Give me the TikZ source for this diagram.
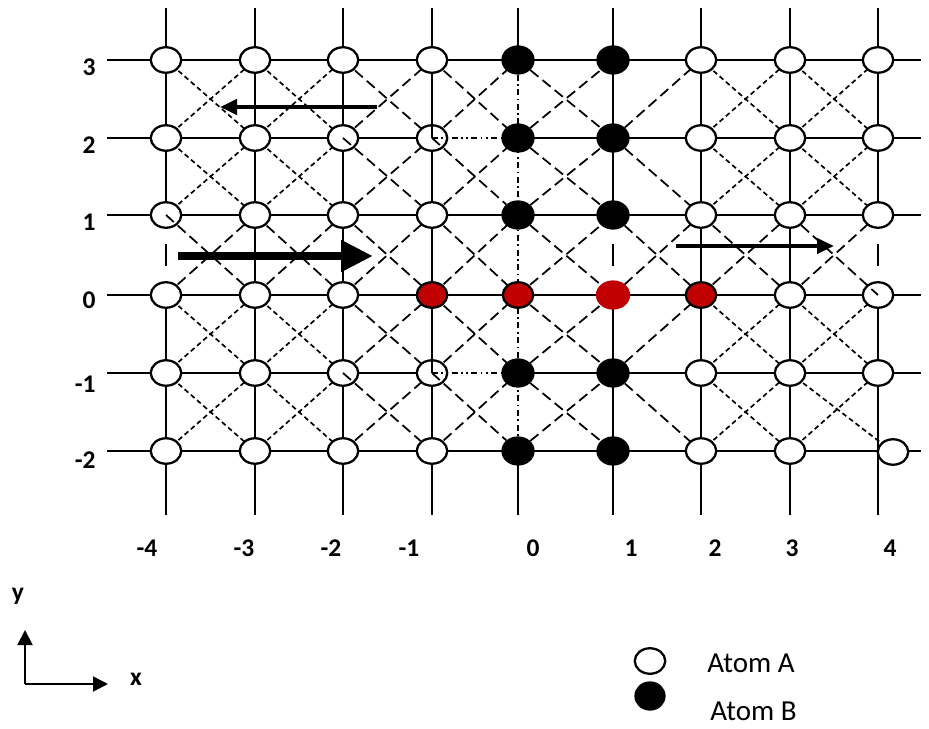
\documentclass[tikz,border=0pt]{standalone}
\usepackage{fontspec}
\setmainfont{Carlito}
\usetikzlibrary{shapes.geometric,arrows.meta}
\definecolor{AtomRed}{HTML}{C00000}

\begin{document}
\begin{tikzpicture}[x=0.02cm,y=-0.02cm,
  lattice/.style={line width=1.2pt},
  shortdash/.style={line width=0.95pt,dash pattern=on 2.8pt off 1.9pt},
  longdash/.style={line width=1pt,dash pattern=on 6pt off 3pt},
  chain/.style={line width=1pt,dash pattern=on 3.4pt off 2pt on 0.9pt off 2pt},
  chaindots/.style={line width=1pt,dash pattern=on 3.4pt off 2pt on 0.9pt off 2pt on 0.9pt off 2pt},
  atomA/.style={ellipse,draw,line width=1.3pt,fill=white,minimum width=0.61cm,minimum height=0.51cm,inner sep=0pt},
  atomB/.style={atomA,fill=black,minimum width=0.62cm,minimum height=0.54cm},
  atomR/.style={atomA,fill=AtomRed},
  atomRn/.style={atomA,draw=AtomRed,fill=AtomRed,minimum width=0.64cm,minimum height=0.54cm},
  push/.style={line width=#1,-{Triangle[length=0.34cm,width=0.3cm]}},
  lbl/.style={font=\fontsize{14.5}{17}\selectfont\bfseries,inner sep=0pt},
  key/.style={font=\fontsize{16.5}{19}\selectfont,inner sep=0pt}]
\path[use as bounding box] (0,0) rectangle (929,729);

% lattice sites
\foreach \i/\x in {-4/166,-3/255,-2/343,-1/432,0/518,1/613,2/701,3/790,4/878}
  \foreach \j/\y in {3/60,2/138,1/215,0/295,-1/373,-2/451}
    \coordinate (c\i_\j) at (\x,\y);
\coordinate (c4_-2) at (893,452);

% diagonals
\foreach \i in {-4,-3,2,3}
  \foreach \j in {-2,-1,1,2}{
    \pgfmathtruncatemacro\k{\i+1}
    \pgfmathtruncatemacro\m{\j+1}
    \draw[shortdash] (c\i_\j) -- (c\k_\m);
    \draw[shortdash] (c\i_\m) -- (c\k_\j);
  }
\foreach \i/\j in {-4/0,-3/0,-2/0,-1/0,0/0,1/0,2/0,3/0,-2/2,-2/1,-2/-1,-2/-2,-1/2,-1/1,-1/-1,-1/-2,0/2,0/1,0/-1,0/-2,1/2,1/-1}{
    \pgfmathtruncatemacro\k{\i+1}
    \pgfmathtruncatemacro\m{\j+1}
    \draw[longdash] (c\i_\j) -- (c\k_\m);
  }
\foreach \i/\j in {-3/0,-2/0,-1/0,0/0,1/0,2/0,-2/2,-2/-1,-1/2,-1/-1,0/2,0/1,0/-1,0/-2,1/1,1/-2}{
    \pgfmathtruncatemacro\k{\i+1}
    \pgfmathtruncatemacro\m{\j+1}
    \draw[longdash] (c\i_\m) -- (c\k_\j);
  }

% horizontal lines
\foreach \j/\y in {3/60,2/138,1/215,0/295,-1/373,-2/451}{
  \coordinate (hl\j) at (107,\y);
  \coordinate (hr\j) at (921,\y);
}
\foreach \j in {3,1,0,-2}
  \draw[lattice] (hl\j) -- (hr\j);
\foreach \j in {2,-1}{
  \draw[lattice] (hl\j) -- (c-1_\j);
  \draw[lattice] (c0_\j) -- (hr\j);
}

% vertical lines
\foreach \i/\x in {-4/166,-3/255,-2/343,-1/432,0/518,1/613,2/701,3/790,4/878}{
  \coordinate (vt\i) at (\x,8);
  \coordinate (vb\i) at (\x,515);
  \coordinate (vu\i) at (\x,244);
  \coordinate (vd\i) at (\x,266);
}
\foreach \i in {-3,-2,-1,2,3}
  \draw[lattice] (vt\i) -- (vb\i);
\foreach \i in {-4,1,4}{
  \draw[lattice] (vt\i) -- (c\i_1);
  \draw[line width=1.5pt] (vu\i) -- (vd\i);
  \draw[lattice] (c\i_0) -- (vb\i);
}
\draw[lattice] (vt0) -- (c0_3);
\draw[chain] (c0_3) -- (c0_-2);
\draw[lattice] (c0_-2) -- (vb0);

% atoms
\foreach \i/\x in {-4/166,-3/255,-2/343,-1/432,0/518,1/613,2/701,3/790,4/878}
  \foreach \j/\y in {3/60,2/138,1/215,0/295,-1/373,-2/451}{
    \def\kind{atomA}
    \ifnum\i>-1 \ifnum\i<2 \def\kind{atomB}\fi\fi
    \ifnum\j=0 \ifnum\i>-2 \ifnum\i<3 \def\kind{atomR}\fi\fi\fi
    \ifnum\j=0 \ifnum\i=1 \def\kind{atomRn}\fi\fi
    \node[\kind] (a\i_\j) at (c\i_\j) {};
  }

% strokes over the atoms
\draw[longdash] (a-4_1.center) -- (a-3_0);
\draw[longdash] (a-2_2.center) -- (a-1_1);
\draw[longdash] (a-1_2.center) -- (a0_1);
\draw[longdash] (a-2_-1.center) -- (a-1_-2);
\draw[longdash] (a-1_-1.center) -- (a0_-2);
\draw[longdash] (a3_1) -- (a4_0.center);
\draw[lattice] (a-1_3) -- (a-1_2.center);
\draw[lattice] (a-1_0) -- (a-1_-1.center);
\draw[chaindots] (a-1_2.center) -- (a0_2);
\draw[chaindots] (a-1_-1.center) -- (a0_-1);

% arrows
\coordinate (p1) at (377,107);
\coordinate (q1) at (220,107);
\coordinate (p2) at (178,256);
\coordinate (q2) at (373,256);
\coordinate (p3) at (676,246);
\coordinate (q3) at (834,246);
\draw[push=2.3pt] (p1) -- (q1);
\draw[line width=5pt,-{Triangle[length=0.64cm,width=0.6cm]}] (p2) -- (q2);
\draw[push=2.3pt] (p3) -- (q3);

% axis labels
\foreach \j/\y in {3/67,2/145,1/222,0/300,-1/384,-2/460}
  \node[lbl,anchor=east] (ly\j) at (96,\y) {\j};
\foreach \i/\x in {-4/147,-3/244,-2/331,-1/409,0/533,1/631,2/715,3/792,4/890}
  \node[lbl] (lx\i) at (\x,548) {\i};

% axes
\coordinate (o) at (25,684);
\coordinate (ye) at (25,630);
\coordinate (xe) at (108,684);
\draw[line width=1.1pt,-{Triangle[length=0.3cm,width=0.3cm]}] (o) -- (ye);
\draw[line width=1.1pt,-{Triangle[length=0.3cm,width=0.3cm]}] (o) -- (xe);
\node[lbl] (ylab) at (18,596) {y};
\node[lbl] (xlab) at (136,679) {x};

% key
\node[atomA] (kA) at (650,661) {};
\node[atomB,minimum width=0.58cm,minimum height=0.54cm] (kB) at (650,696) {};
\node[key,anchor=west] (tA) at (707,663) {Atom A};
\node[key,anchor=west] (tB) at (710,711) {Atom B};
\end{tikzpicture}
\end{document}
